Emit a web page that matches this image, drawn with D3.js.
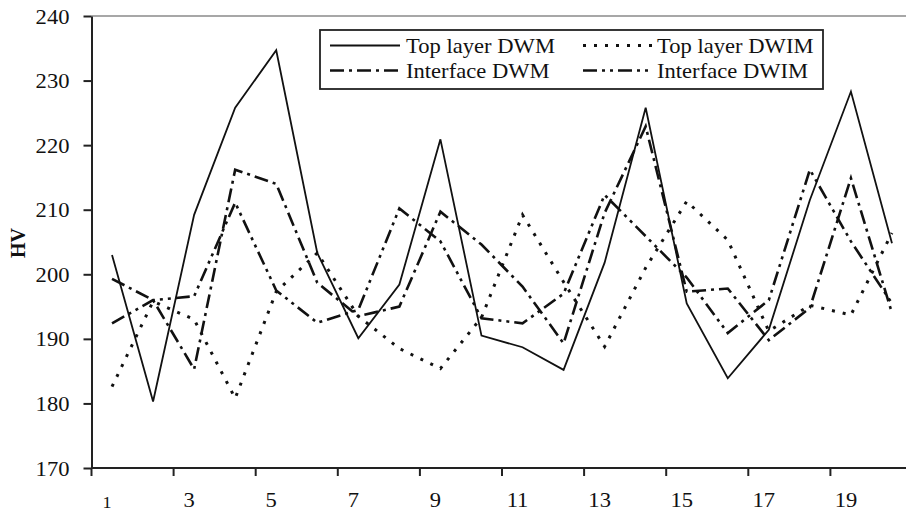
<!DOCTYPE html>
<html>
<head>
<meta charset="utf-8">
<script src="https://cdn.jsdelivr.net/npm/d3@7"></script>
<style>
  html, body { margin: 0; padding: 0; background: #fff; }
  svg { display: block; }
  text { font-family: "Liberation Serif", "Times New Roman", serif; fill: #111; }
</style>
</head>
<body>
<svg id="chart" width="906" height="513"></svg>
<script>
// ---- data ----
const categories = [1,2,3,4,5,6,7,8,9,10,11,12,13,14,15,16,17,18,19,20];
const topLayerDWM    = [203.0,180.3,209.2,225.8,234.7,203.3,190.1,198.4,220.9,190.5,188.7,185.2,201.8,225.8,195.5,183.9,191.4,211.5,228.3,204.8];
const topLayerDWIM   = [182.6,195.8,193.0,180.8,197.3,203.3,193.5,188.5,185.4,193.3,209.2,198.8,188.8,201.0,211.3,205.3,191.2,195.2,193.7,206.4];
const interfaceDWM   = [199.3,196.0,185.3,216.2,214.0,198.7,193.5,195.0,209.7,204.6,198.1,189.3,209.5,222.9,197.3,197.8,189.8,194.8,214.9,194.0];
const interfaceDWIM  = [192.4,196.0,196.6,211.1,197.5,192.5,194.5,210.2,205.1,193.2,192.4,197.0,212.3,205.9,199.5,190.9,196.0,216.2,205.1,195.5];
const seriesNames = ["Top layer DWM", "Top layer DWIM", "Interface DWM", "Interface DWIM"];
const yTicks = [170,180,190,200,210,220,230,240];
const xTickCats = [1,3,5,7,9,11,13,15,17,19];
const yLabel = "HV";

// ---- styles ----
const dashes = [null, "3,8", "14,5,3,5", "14,5,3,5,3,5"];
const widths = [1.8, 3, 2.6, 2.6];
const TS = 1.13; // horizontal text stretch of the original picture

const svg = d3.select("#chart");
const x = d3.scaleBand().domain(categories).range([91.5, 912.5]).padding(0);
const y = d3.scaleLinear().domain([170, 240]).range([468, 16]);
const cx = c => x(c) + x.bandwidth() / 2;

// top border
svg.append("line")
  .attr("x1", x.range()[0]).attr("x2", 906)
  .attr("y1", y(240)).attr("y2", y(240))
  .attr("stroke", "#8a8a8a").attr("stroke-width", 1.6);

// y axis
const gy = svg.append("g").attr("transform", `translate(${x.range()[0]},0)`)
  .call(d3.axisLeft(y).tickValues(yTicks).tickSize(8).tickSizeOuter(0).tickFormat(d3.format("d")));
gy.select(".domain").attr("stroke", "#222").attr("stroke-width", 2);
gy.selectAll(".tick line").attr("stroke", "#222").attr("stroke-width", 2);
gy.selectAll(".tick text")
  .attr("x", null).attr("dy", "0.35em")
  .attr("transform", `translate(-22,0) scale(${TS},1)`)
  .attr("text-anchor", "end")
  .style("font-family", '"Liberation Serif", serif')
  .style("font-size", "20px").attr("fill", "#111");

// x axis
const gx = svg.append("g");
gx.append("line")
  .attr("x1", x.range()[0]).attr("x2", 906)
  .attr("y1", y(170)).attr("y2", y(170))
  .attr("stroke", "#222").attr("stroke-width", 2);
gx.selectAll("line.xt").data(xTickCats).join("line").attr("class", "xt")
  .attr("x1", d => x(d)).attr("x2", d => x(d))
  .attr("y1", y(170)).attr("y2", y(170) + 8)
  .attr("stroke", "#222").attr("stroke-width", 2);
gx.selectAll("text.xl").data(xTickCats).join("text").attr("class", "xl")
  .attr("transform", d => `translate(${cx(d) - 5},${d === 1 ? 508 : 507}) scale(${TS},1)`)
  .attr("text-anchor", "middle")
  .style("font-size", d => d === 1 ? "16px" : "20px")
  .text(d => d);

// y label
svg.append("text")
  .attr("transform", `translate(25,243) rotate(-90)`)
  .attr("text-anchor", "middle")
  .style("font-size", "20px").style("font-weight", "bold")
  .text(yLabel);

// lines
const allSeries = [topLayerDWM, topLayerDWIM, interfaceDWM, interfaceDWIM];
const line = d3.line().x((d, i) => cx(categories[i])).y(d => y(d));
svg.append("g").selectAll("path").data(allSeries).join("path")
  .attr("d", d => line(d))
  .attr("fill", "none")
  .attr("stroke", "#111")
  .attr("stroke-width", (d, i) => widths[i])
  .attr("stroke-dasharray", (d, i) => dashes[i])
  .attr("stroke-linejoin", "miter");

// legend
const lg = svg.append("g");
lg.append("rect").attr("x", 320).attr("y", 30).attr("width", 503).attr("height", 59)
  .attr("fill", "#fff").attr("stroke", "#222").attr("stroke-width", 1.8);
const legPos = [
  {sx: 330, tx: 406, row: 0},
  {sx: 583, tx: 657, row: 0},
  {sx: 330, tx: 406, row: 1},
  {sx: 583, tx: 657, row: 1}
];
seriesNames.forEach((name, i) => {
  const p = legPos[i];
  const ly = 45.5 + p.row * 25;
  lg.append("line").attr("x1", p.sx).attr("x2", p.sx + 70)
    .attr("y1", ly).attr("y2", ly)
    .attr("stroke", "#111").attr("stroke-width", widths[i])
    .attr("stroke-dasharray", dashes[i]);
  lg.append("text")
    .attr("transform", `translate(${p.tx},${53 + p.row * 25}) scale(${TS},1)`)
    .style("font-size", "20px")
    .text(name);
});
</script>
</body>
</html>
